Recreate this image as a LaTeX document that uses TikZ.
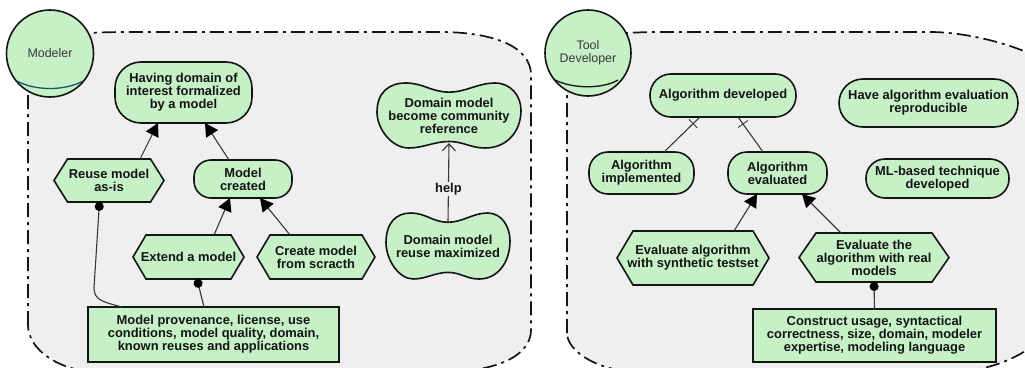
\documentclass[tikz,border=0pt]{standalone}
\usepackage{fontspec}
\setmainfont{Liberation Sans}
\usetikzlibrary{arrows.meta,calc}
\definecolor{panelgray}{HTML}{EFEFEF}
\definecolor{nodegreen}{HTML}{C6F0C6}
\definecolor{inkblack}{HTML}{141414}
\definecolor{arcteal}{HTML}{17566A}
\tikzset{
  panel/.style={fill=panelgray,draw=inkblack,line width=1.7pt,dash pattern=on 14pt off 5pt on 3pt off 5pt},
  shapeline/.style={fill=nodegreen,draw=inkblack,line width=1.6pt},
  textstyle/.style={inner sep=0pt,outer sep=0pt,align=center,text=inkblack,font=\fontsize{12.9}{12.9}\selectfont\bfseries},
  actor/.style={shapeline,circle,inner sep=0pt,outer sep=0pt,minimum size=87pt,align=center,text=inkblack!85,font=\fontsize{12.4}{12.9}\selectfont},
  link/.style={draw=inkblack!85,line width=1.1pt},
  isa/.style={link,-{Triangle[length=13pt,width=14pt,fill=black,color=black]}},
  need/.style={link,-{Circle[length=9pt,width=9pt,fill=black,color=black]}},
  helps/.style={link,-{Straight Barb[length=7pt,width=13pt]}},
  tick/.style={draw=inkblack!85,line width=0.9pt},
}
% radius, x1,y1,x2,y2, name, text
\newcommand{\goalnode}[7]{\node[shapeline,textstyle,rounded corners=#1,minimum width={(#4-#2)*1pt},minimum height={(#5-#3)*1pt}] (#6) at ({(#2+#4)/2},{(#3+#5)/2}) {#7};}
% x1,y1,x2,y2, inset, name, text
\newcommand{\hexnode}[7]{\draw[shapeline,line join=miter] (#1,{(#2+#4)/2}) -- ({#1+#5},#2) -- ({#3-#5},#2) -- (#3,{(#2+#4)/2}) -- ({#3-#5},#4) -- ({#1+#5},#4) -- cycle;
  \node[textstyle,minimum width={(#3-#1)*1pt},minimum height={(#4-#2)*1pt}] (#6) at ({(#1+#3)/2},{(#2+#4)/2}) {#7};}
% x1,y1,x2,y2, name, text
\newcommand{\cloudnode}[6]{\begin{scope}[shift={(#1,#2)},xscale={#3-#1},yscale={#4-#2}]
  \draw[shapeline] (0,.45) .. controls (0,.15) and (.08,0) .. (.2,0) .. controls (.32,0) and (.38,.14) .. (.5,.14) .. controls (.62,.14) and (.7,0) .. (.82,0) .. controls (.93,0) and (1,.2) .. (1,.42) .. controls (1,.75) and (.9,1) .. (.75,1) .. controls (.65,1) and (.6,.9) .. (.5,.9) .. controls (.4,.9) and (.32,1) .. (.22,1) .. controls (.1,1) and (0,.7) .. (0,.45) -- cycle;
  \end{scope}
  \node[textstyle,minimum width={(#3-#1)*1pt},minimum height={(#4-#2)*1pt}] (#5) at ({(#1+#3)/2},{(#2+#4)/2}) {#6};}
\begin{document}
\begin{tikzpicture}[x=1pt,y=-1pt]
\useasboundingbox (0,0) rectangle (1025,367);
\begin{scope}
\clip (0,0) rectangle (1025,367);
% panels
\draw[panel] (28,325) -- (28,60) .. controls (28,40) and (50,32) .. (130,32) -- (440,32) .. controls (490,32) and (531,45) .. (531,75) -- (531,330) .. controls (531,352) and (505,372) .. (440,372) -- (100,372) .. controls (60,372) and (28,350) .. (28,325) -- cycle;
\draw[panel] (567,333) -- (567,60) .. controls (567,40) and (590,32) .. (665,32) -- (930,32) .. controls (980,32) and (1050,55) .. (1060,75) -- (1060,310) .. controls (1050,345) and (1000,372) .. (950,372) -- (640,372) .. controls (600,372) and (567,352) .. (567,333) -- cycle;
\end{scope}
% left panel
\node[actor] (modeler) at (50,53.5) {Modeler};
\draw[draw=arcteal,line width=1.3pt] (17,81) .. controls (35,91) and (65,91) .. (83,81);
\goalnode{26}{115}{62}{252}{123}{having}{Having domain of\\interest formalized\\by a model}
\hexnode{54}{159}{164}{202}{13.5}{reuse}{Reuse model\\as-is}
\goalnode{17}{194}{160}{292}{198}{created}{Model\\created}
\hexnode{133}{235}{244}{279}{13}{extend}{Extend a model}
\hexnode{257}{235}{375}{279}{13}{create}{Create model\\from scracth}
\node[shapeline,textstyle,minimum width=251pt,minimum height=55pt] (provenance) at (213.5,334.5) {Model provenance, license, use\\conditions, model quality, domain,\\known reuses and applications};
\cloudnode{377}{83}{521}{148}{community}{Domain model\\become community\\reference}
\cloudnode{386}{213}{510}{279}{maximized}{Domain model\\reuse maximized}
\draw[isa] ([xshift=31pt]reuse.north) -- ([xshift=-25.5pt]having.south);
\draw[isa] ([xshift=-14pt]created.north) -- ([xshift=21.5pt]having.south);
\draw[isa] ([xshift=25.5pt]extend.north) -- ([xshift=-13pt]created.south);
\draw[isa] ([xshift=-26pt]create.north) -- ([xshift=17pt]created.south);
\draw[need] ([xshift=-91.5pt]provenance.north) .. controls (103,302) and (94,300) .. (94,288) -- ([xshift=-9.5pt]reuse.south);
\draw[need] ([xshift=-9.5pt]provenance.north) -- ([xshift=8.5pt]extend.south);
\draw[helps] ([yshift=-9pt]maximized.north) -- node[textstyle,fill=panelgray,pos=.42,inner ysep=1pt] {help} ([yshift=5pt]community.south);
% right panel
\node[actor,minimum size=86pt] (tool) at (588,53) {Tool\\Developer};
\draw[draw=inkblack,line width=1.3pt] (555,80) .. controls (573,89) and (603,89) .. (618,80);
\goalnode{21}{650}{74}{796}{117}{developed}{Algorithm developed}
\goalnode{19}{589}{152}{694}{194}{implemented}{Algorithm\\implemented}
\goalnode{19}{728}{152}{827}{194}{evaluated}{Algorithm\\evaluated}
\goalnode{24}{839}{79}{1018}{127}{reproducible}{Have algorithm evaluation\\reproducible}
\goalnode{19}{866}{159}{1009}{198}{mlbased}{ML-based technique\\developed}
\hexnode{617}{231}{769}{285}{16}{synthetic}{Evaluate algorithm\\with synthetic testset}
\hexnode{799}{233}{949}{282}{17}{realmodels}{Evaluate the\\algorithm with real\\models}
\node[shapeline,textstyle,minimum width=243pt,minimum height=53pt] (construct) at (874.5,335.5) {Construct usage, syntactical\\correctness, size, domain, modeler\\expertise, modeling language};
\draw[isa] ([xshift=41pt]synthetic.north) -- ([xshift=-20.5pt]evaluated.south);
\draw[isa] ([xshift=-33pt]realmodels.north) -- ([xshift=24.5pt]evaluated.south);
\draw[need] (construct.north) -- (realmodels.south);
\coordinate (ia) at ([xshift=22.5pt]implemented.north);
\coordinate (ib) at ([xshift=-23pt]developed.south);
\coordinate (ea) at ([xshift=-14.5pt]evaluated.north);
\coordinate (eb) at ([xshift=15pt]developed.south);
\draw[link] (ia) -- (ib);
\draw[link] (ea) -- (eb);
\coordinate (it) at ($(ia)!.81!(ib)$);
\coordinate (et) at ($(ea)!.8!(eb)$);
\draw[tick] ($(it)!6pt!90:(ib)$) -- ($(it)!6pt!-90:(ib)$);
\draw[tick] ($(et)!6pt!90:(eb)$) -- ($(et)!6pt!-90:(eb)$);
\end{tikzpicture}
\end{document}
